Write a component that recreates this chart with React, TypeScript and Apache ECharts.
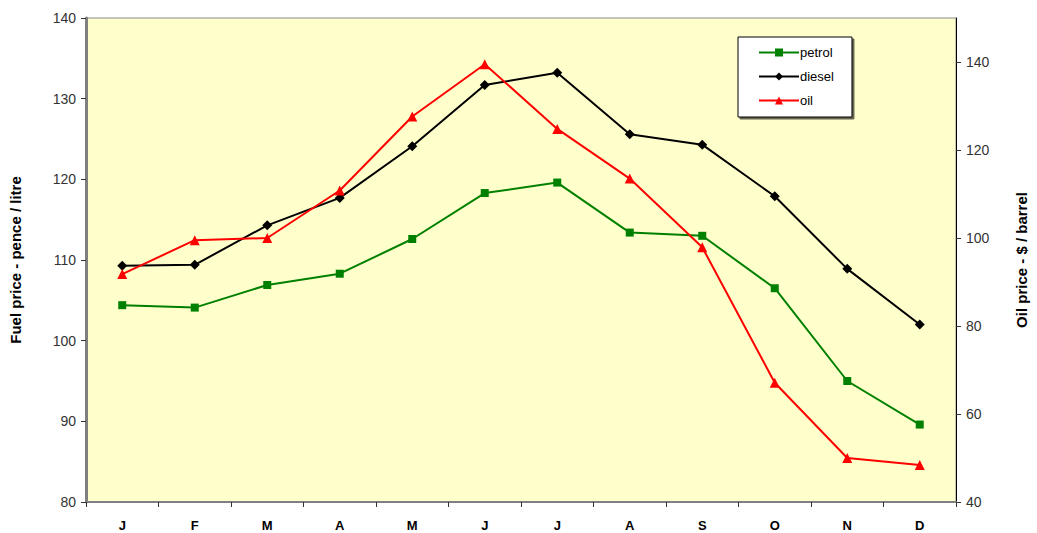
import React, { useEffect, useRef } from "react";
import * as echarts from "echarts";

const months = ["J", "F", "M", "A", "M", "J", "J", "A", "S", "O", "N", "D"];
const petrol = [104.4, 104.1, 106.9, 108.3, 112.6, 118.3, 119.6, 113.4, 113.0, 106.5, 95.0, 89.6];
const diesel = [109.3, 109.4, 114.3, 117.7, 124.1, 131.7, 133.2, 125.6, 124.3, 117.9, 108.9, 102.0];
const oil = [91.8, 99.5, 100.0, 110.8, 127.6, 139.5, 124.8, 113.5, 97.9, 67.1, 50.0, 48.4];

const FONT = "'Liberation Sans', Arial, sans-serif";

export default function App() {
  const ref = useRef<HTMLDivElement>(null);
  useEffect(() => {
    document.body.style.margin = "0";
    const chart = echarts.init(ref.current!, null, { renderer: "svg" });
    chart.setOption({
      animation: false,
      textStyle: { fontFamily: FONT },
      grid: {
        left: 86,
        right: 79,
        top: 18,
        bottom: 31,
        show: true,
        backgroundColor: "#FFFFCC",
        borderColor: "#8a8a8a",
        borderWidth: 1,
      },
      legend: {
        orient: "vertical",
        left: 738,
        top: 37,
        padding: [9, 18, 10, 20],
        itemGap: 11,
        itemWidth: 40,
        itemHeight: 10,
        backgroundColor: "#ffffff",
        borderColor: "#000000",
        borderWidth: 1,
        shadowColor: "rgba(0,0,0,0.6)",
        shadowBlur: 0,
        shadowOffsetX: 2,
        shadowOffsetY: 2,
        textStyle: { fontFamily: FONT, fontSize: 13, color: "#000", padding: [0, 0, 0, -4] },
        data: ["petrol", "diesel", "oil"],
      },
      xAxis: {
        type: "category",
        data: months,
        boundaryGap: true,
        axisLine: { lineStyle: { color: "#808080", width: 2 } },
        axisTick: { show: true, length: 5, lineStyle: { color: "#333" } },
        axisLabel: { fontFamily: FONT, fontSize: 13, fontWeight: "bold", color: "#000", margin: 17 },
      },
      yAxis: [
        {
          type: "value",
          min: 80,
          max: 140,
          interval: 10,
          position: "left",
          name: "Fuel price - pence / litre",
          nameLocation: "middle",
          nameRotate: 90,
          nameGap: 63,
          nameTextStyle: { fontFamily: FONT, fontSize: 15, fontWeight: "bold", color: "#000" },
          axisLine: { show: true, lineStyle: { color: "#808080", width: 3 } },
          axisTick: { show: true, length: 5, lineStyle: { color: "#333" } },
          axisLabel: { fontFamily: FONT, fontSize: 14, color: "#333", margin: 10 },
          splitLine: { show: false },
        },
        {
          type: "value",
          min: 40,
          max: 150,
          interval: 20,
          position: "right",
          name: "Oil price - $ / barrel",
          nameLocation: "middle",
          nameRotate: 90,
          nameGap: 58,
          nameTextStyle: { fontFamily: FONT, fontSize: 15, fontWeight: "bold", color: "#000" },
          axisLine: { show: true, lineStyle: { color: "#000", width: 1 } },
          axisTick: { show: true, length: 5, lineStyle: { color: "#333" } },
          axisLabel: { fontFamily: FONT, fontSize: 14, color: "#333", margin: 10, showMaxLabel: false },
          splitLine: { show: false },
        },
      ],
      series: [
        {
          name: "petrol",
          type: "line",
          yAxisIndex: 0,
          data: petrol,
          symbol: "rect",
          symbolSize: 8,
          color: "#008000",
          lineStyle: { width: 2, color: "#008000" },
          itemStyle: { color: "#008000" },
        },
        {
          name: "diesel",
          type: "line",
          yAxisIndex: 0,
          data: diesel,
          symbol: "diamond",
          symbolSize: 10,
          color: "#000000",
          lineStyle: { width: 2, color: "#000000" },
          itemStyle: { color: "#000000" },
        },
        {
          name: "oil",
          type: "line",
          yAxisIndex: 1,
          data: oil,
          symbol: "triangle",
          symbolSize: 10,
          color: "#FF0000",
          lineStyle: { width: 2, color: "#FF0000" },
          itemStyle: { color: "#FF0000" },
        },
      ],
    });
    return () => chart.dispose();
  }, []);
  return <div ref={ref} style={{ width: 1037, height: 533 }} />;
}
